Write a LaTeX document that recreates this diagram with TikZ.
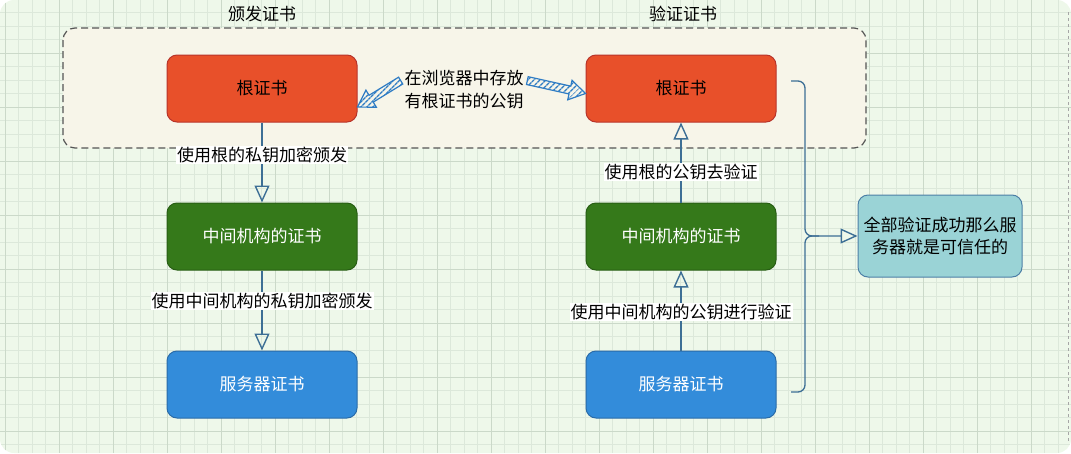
\documentclass[tikz,border=0pt]{standalone}
\usepackage{fontspec}
\newfontfamily\cjk{Noto Sans CJK SC}
\usetikzlibrary{arrows.meta,calc,patterns.meta}
\definecolor{paper}{HTML}{EEF8EA}
\definecolor{gridln}{HTML}{DCE8DA}
\definecolor{gridmj}{HTML}{CBD9C9}
\definecolor{zone}{HTML}{F7F5E9}
\definecolor{zoneb}{HTML}{555555}
\definecolor{rootc}{HTML}{E8502A}
\definecolor{rootb}{HTML}{B8342A}
\definecolor{midc}{HTML}{35791A}
\definecolor{midb}{HTML}{285E14}
\definecolor{srvc}{HTML}{338CDA}
\definecolor{srvb}{HTML}{2A6BA8}
\definecolor{okc}{HTML}{9AD3D6}
\definecolor{okb}{HTML}{4D7FA6}
\definecolor{wire}{HTML}{3D6F95}
\definecolor{hatch}{HTML}{2F7CC4}
\tikzset{
  pg/.style={x=1pt,y=-1pt,line width=1pt,font=\cjk\fontsize{17}{23}\selectfont},
  cert/.style={draw,rounded corners=10pt,minimum width=190pt,minimum height=67pt,line width=1pt},
  lnk/.style={wire,line width=1.3pt,-{Triangle[open,length=17pt,width=15pt,line width=1.4pt]}},
  tag/.style={fill=white,inner sep=1pt,text=black},
  fat/.style={draw=hatch,line width=1.2pt,pattern={Lines[angle=45,distance=4pt,line width=1.5pt]},pattern color=hatch}
}
% hatched fat arrow from #1 to #2
\newcommand{\hatchto}[2]{%
  \coordinate (hb) at ($(#2)!16pt!(#1)$);
  \draw[fat] ($(#1)!4pt!90:(#2)$) -- ($(hb)!4pt!90:(#2)$) -- ($(hb)!10pt!90:(#2)$) -- (#2)
    -- ($(hb)!10pt!-90:(#2)$) -- ($(hb)!4pt!-90:(#2)$) -- ($(#1)!4pt!-90:(#2)$) -- cycle;}

\begin{document}
\begin{tikzpicture}[pg]
  \useasboundingbox (0,0) rectangle (1071,453);
  \fill[paper,rounded corners=14pt] (0,0) rectangle (1071,453);
  \begin{scope}
    \clip[rounded corners=14pt] (0,0) rectangle (1071,453);
    \foreach \x in {5,18.5,...,1071}{\draw[gridln,line width=.6pt] (\x,0)--(\x,453);}
    \foreach \y in {12.5,26,...,453}{\draw[gridln,line width=.6pt] (0,\y)--(1071,\y);}
    \foreach \x in {5,59,...,1071}{\draw[gridmj,line width=.8pt] (\x,0)--(\x,453);}
    \foreach \y in {53,107,...,453}{\draw[gridmj,line width=.8pt] (0,\y)--(1071,\y);}
  \end{scope}
  \draw[gray!70,dashed,line width=.8pt] (1068,12)--(1068,441);

  % the group that is kept in the browser
  \draw[zoneb,fill=zone,rounded corners=12pt,line width=1.2pt,dash pattern=on 7pt off 4pt] (63,28) rectangle (866,148);
  \node (tA) at (262,14) {颁发证书};
  \node (tB) at (683,14) {验证证书};

  \node[cert,fill=rootc,draw=rootb] (rootA) at (262,88.5) {根证书};
  \node[cert,fill=midc,draw=midb,text=white] (midA) at (262,236.5) {中间机构的证书};
  \node[cert,fill=srvc,draw=srvb,text=white] (srvA) at (262,384.5) {服务器证书};
  \node[cert,fill=rootc,draw=rootb] (rootB) at (681,88.5) {根证书};
  \node[cert,fill=midc,draw=midb,text=white] (midB) at (681,236.5) {中间机构的证书};
  \node[cert,fill=srvc,draw=srvb,text=white] (srvB) at (681,384.5) {服务器证书};
  \node[cert,fill=okc,draw=okb,minimum width=164pt,minimum height=82pt,align=center,inner sep=2pt,font=\cjk\fontsize{17}{22}\selectfont] (okbox) at (940,236) {全部验证成功那么服\\务器就是可信任的};
  \node[align=center] (store) at (464,89.5) {在浏览器中存放\\有根证书的公钥};

  \hatchto{store.172}{rootA.-11}
  \hatchto{store.8}{rootB.183}

  \draw[lnk] (rootA) -- node[tag,pos=.41]{使用根的私钥加密颁发} (midA);
  \draw[lnk] (midA) -- node[tag,pos=.38]{使用中间机构的私钥加密颁发} (srvA);
  \draw[lnk] (srvB) -- node[tag,pos=.48]{使用中间机构的公钥进行验证} (midB);
  \draw[lnk] (midB) -- node[tag,pos=.38]{使用根的公钥去验证} (rootB);

  \coordinate (bt) at (791,81);
  \coordinate (bb) at (791,392);
  \coordinate (bj) at (805,236);
  \draw[lnk,rounded corners=7pt] (bt) -| (bj) -- (okbox.west);
  \draw[wire,line width=1.3pt,rounded corners=7pt] (bb) -| (bj) -- ++(14,0);
\end{tikzpicture}
\end{document}
